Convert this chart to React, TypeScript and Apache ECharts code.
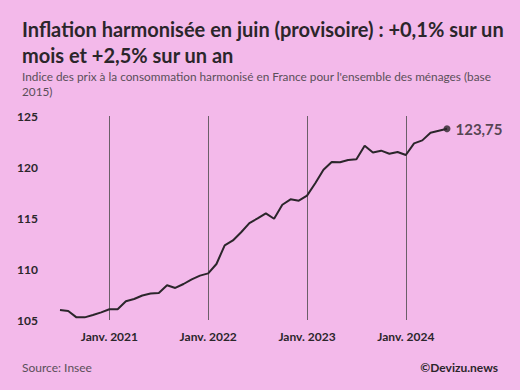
import React, { useEffect, useRef } from "react";
import * as echarts from "echarts";

const months = [
  "2020-07", "2020-08", "2020-09", "2020-10", "2020-11", "2020-12",
  "2021-01", "2021-02", "2021-03", "2021-04", "2021-05", "2021-06",
  "2021-07", "2021-08", "2021-09", "2021-10", "2021-11", "2021-12",
  "2022-01", "2022-02", "2022-03", "2022-04", "2022-05", "2022-06",
  "2022-07", "2022-08", "2022-09", "2022-10", "2022-11", "2022-12",
  "2023-01", "2023-02", "2023-03", "2023-04", "2023-05", "2023-06",
  "2023-07", "2023-08", "2023-09", "2023-10", "2023-11", "2023-12",
  "2024-01", "2024-02", "2024-03", "2024-04", "2024-05", "2024-06",
];

const hicp = [
  105.98, 105.88, 105.26, 105.26, 105.49, 105.75,
  106.05, 106.05, 106.83, 107.06, 107.4, 107.6,
  107.65, 108.4, 108.14, 108.53, 108.99, 109.35,
  109.57, 110.49, 112.32, 112.8, 113.6, 114.5,
  114.96, 115.46, 114.93, 116.3, 116.83, 116.7,
  117.19, 118.4, 119.74, 120.5, 120.46, 120.69,
  120.75, 122.09, 121.43, 121.6, 121.3, 121.47,
  121.18, 122.32, 122.61, 123.36, 123.56, 123.75,
];

const yTicks = [105, 110, 115, 120, 125];
const lastLabel = "123,75";

const BG = "#f3b9ea";
const DARK = "#2b262b";
const FONT = "Lato";

export default function App() {
  const ref = useRef<HTMLDivElement>(null);
  useEffect(() => {
    if (!ref.current) return;
    const chart = echarts.init(ref.current, undefined, { renderer: "svg" });
    const isJan = (i: number) => months[i].endsWith("-01");
    const lastIdx = hicp.length - 1;
    chart.setOption({
      animation: false,
      backgroundColor: BG,
      textStyle: { fontFamily: FONT },
      title: [
        {
          text: "Inflation harmonisée en juin (provisoire) : +0,1% sur un\nmois et +2,5% sur un an",
          left: 17,
          top: 11,
          textStyle: { fontFamily: FONT, fontWeight: "bold", fontSize: 20, lineHeight: 26, color: DARK },
        },
        {
          text: "Indice des prix à la consommation harmonisé en France pour l'ensemble des ménages (base\n2015)",
          left: 17,
          top: 64,
          textStyle: { fontFamily: FONT, fontWeight: "normal", fontSize: 11.8, lineHeight: 15, color: "#5a4f59" },
        },
        {
          text: "Source: Insee",
          left: 17,
          top: 356,
          textStyle: { fontFamily: FONT, fontWeight: "normal", fontSize: 12, color: "#5a4f59" },
        },
        {
          text: "©Devizu.news",
          right: 17,
          top: 356,
          textStyle: { fontFamily: FONT, fontWeight: "bold", fontSize: 12, color: DARK },
        },
      ],
      grid: { left: 60, right: 73, top: 116, bottom: 70 },
      xAxis: {
        type: "category",
        data: months,
        boundaryGap: false,
        axisLine: { show: false },
        axisTick: { show: false },
        axisLabel: {
          interval: (i: number) => isJan(i),
          formatter: (v: string) => "Janv. " + v.slice(0, 4),
          fontFamily: FONT,
          fontWeight: "bold",
          fontSize: 12,
          color: DARK,
          margin: 10,
        },
        splitLine: {
          show: true,
          interval: (i: number) => isJan(i),
          lineStyle: { color: "#6b5f69", width: 1 },
        },
      },
      yAxis: {
        type: "value",
        min: 105,
        max: 125,
        interval: 5,
        axisLine: { show: false },
        axisTick: { show: false },
        splitLine: { show: false },
        axisLabel: {
          fontFamily: FONT,
          fontWeight: "bold",
          fontSize: 12,
          color: DARK,
          margin: 22,
          formatter: (v: number) => (yTicks.includes(v) ? String(v) : ""),
        },
      },
      series: [
        {
          type: "line",
          data: hicp,
          showSymbol: false,
          symbol: "none",
          lineStyle: { color: DARK, width: 2 },
          itemStyle: { color: DARK },
        },
        {
          type: "scatter",
          data: [[lastIdx, hicp[lastIdx]]],
          symbol: "circle",
          symbolSize: 7,
          itemStyle: { color: DARK },
          label: {
            show: true,
            position: "right",
            distance: 5,
            formatter: lastLabel,
            fontFamily: FONT,
            fontWeight: "bold",
            fontSize: 15,
            color: DARK,
          },
        },
      ],
    });
    return () => chart.dispose();
  }, []);
  return <div ref={ref} style={{ width: 520, height: 390, position: "absolute", left: 0, top: 0 }} />;
}
